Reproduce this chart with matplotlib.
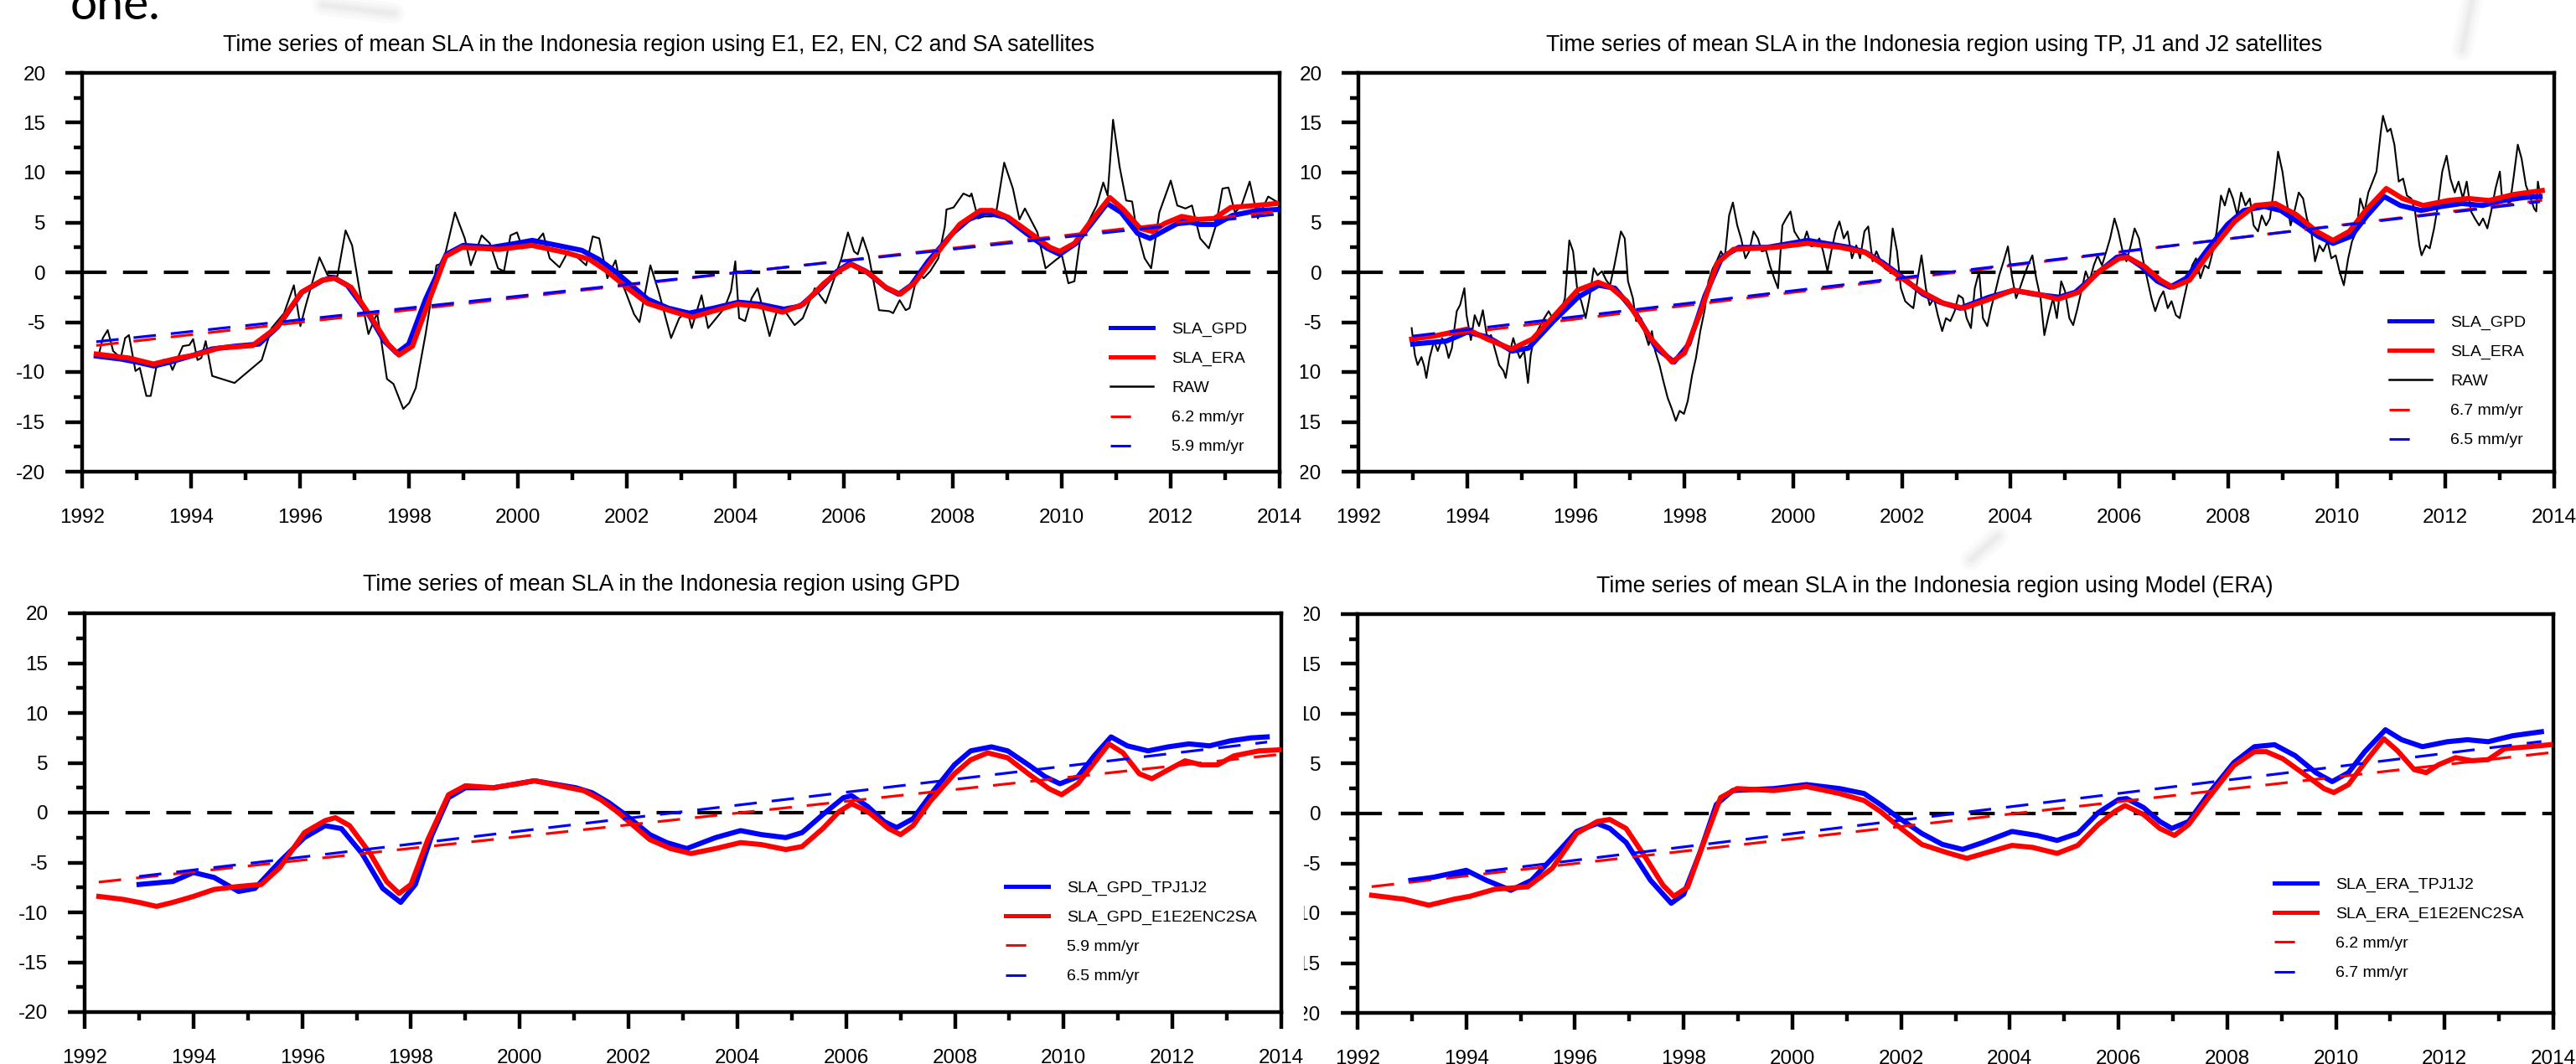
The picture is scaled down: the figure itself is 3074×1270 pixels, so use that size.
import numpy as np
import matplotlib
matplotlib.use("Agg")
import matplotlib.pyplot as plt
from matplotlib.lines import Line2D
from matplotlib.transforms import Bbox, TransformedBbox

plt.rcParams["font.family"] = ["Liberation Sans", "DejaVu Sans"]
plt.rcParams["axes.unicode_minus"] = False

# ---------------------------------------------------------------- data (cm)
# Smoothed SLA, E1/E2/EN/C2/SA satellites, GPD correction
gpd_e_years = [1992.26, 1992.71, 1993.0, 1993.32, 1993.62, 1994.0, 1994.38, 1994.83, 1995.25, 1995.59,
               1996.04, 1996.42, 1996.61, 1996.87, 1997.25, 1997.55, 1997.78, 1998.0, 1998.31, 1998.69,
               1999.0, 1999.52, 1999.97, 2000.27, 2000.73, 2001.18, 2001.49, 2001.79, 2002.09, 2002.39,
               2002.77, 2003.15, 2003.6, 2004.06, 2004.44, 2004.89, 2005.19, 2005.57, 2005.87, 2006.1,
               2006.4, 2006.78, 2007.0, 2007.23, 2007.54, 2007.99, 2008.29, 2008.6, 2008.97, 2009.35,
               2009.73, 2009.96, 2010.26, 2010.56, 2010.83, 2011.09, 2011.39, 2011.62, 2011.92, 2012.23,
               2012.53, 2012.83, 2013.13, 2013.59, 2013.97]
gpd_e_sla = [-8.4, -8.7, -9.0, -9.4, -9.0, -8.4, -7.7, -7.4, -7.2, -5.5,
             -2.0, -0.8, -0.5, -1.3, -4.1, -6.9, -8.1, -7.2, -2.7, 1.8,
             2.7, 2.5, 2.9, 3.2, 2.7, 2.2, 1.3, 0.1, -1.3, -2.7,
             -3.6, -4.1, -3.6, -3.0, -3.2, -3.7, -3.4, -1.6, 0.1, 0.9,
             0.1, -1.6, -2.2, -1.3, 1.1, 3.9, 5.3, 6.0, 5.5, 3.9,
             2.4, 1.8, 2.9, 5.0, 6.9, 6.0, 3.9, 3.4, 4.3, 5.2,
             4.8, 4.8, 5.7, 6.2, 6.3]

# Smoothed SLA, E1/E2/EN/C2/SA satellites, ERA model correction
era_e_years = [1992.26, 1992.86, 1993.31, 1993.77, 1994.07, 1994.52, 1995.13, 1995.58, 1996.03, 1996.41,
               1996.64, 1996.94, 1997.32, 1997.62, 1997.82, 1998.07, 1998.37, 1998.68, 1998.98, 1999.66,
               2000.26, 2000.87, 2001.32, 2001.62, 2002.0, 2002.38, 2002.83, 2003.21, 2003.59, 2004.04,
               2004.42, 2004.87, 2005.25, 2005.63, 2005.93, 2006.12, 2006.46, 2006.76, 2007.03, 2007.29,
               2007.66, 2008.12, 2008.5, 2008.72, 2009.02, 2009.48, 2009.78, 2009.96, 2010.23, 2010.53,
               2010.88, 2011.13, 2011.44, 2011.66, 2011.89, 2012.2, 2012.5, 2012.8, 2013.1, 2013.56,
               2013.94]
era_e_sla = [-8.2, -8.6, -9.2, -8.6, -8.3, -7.6, -7.35, -5.5, -2.0, -0.8,
             -0.6, -1.5, -4.6, -7.2, -8.3, -7.4, -2.9, 1.6, 2.5, 2.3,
             2.7, 2.0, 1.3, 0.2, -1.5, -3.1, -3.9, -4.5, -3.9, -3.2,
             -3.4, -4.0, -3.2, -1.1, 0.2, 0.8, -0.1, -1.5, -2.2, -1.1,
             1.6, 4.8, 6.2, 6.2, 5.5, 3.7, 2.5, 2.1, 2.9, 5.1,
             7.5, 6.3, 4.4, 4.1, 4.9, 5.6, 5.3, 5.4, 6.5, 6.7,
             6.9]

# Smoothed SLA, TP/J1/J2 satellites, GPD correction
gpd_t_years = [1993.0, 1993.62, 1994.0, 1994.38, 1994.83, 1995.13, 1995.59, 1996.04, 1996.42, 1996.72,
               1997.1, 1997.48, 1997.81, 1998.08, 1998.38, 1998.69, 1999.0, 1999.52, 2000.27, 2001.03,
               2001.33, 2001.64, 2001.94, 2002.39, 2002.7, 2003.07, 2003.6, 2004.06, 2004.44, 2004.89,
               2005.19, 2005.57, 2005.95, 2006.1, 2006.4, 2006.7, 2006.93, 2007.23, 2007.61, 2007.99,
               2008.29, 2008.67, 2008.97, 2009.35, 2009.66, 2009.93, 2010.26, 2010.56, 2010.87, 2011.17,
               2011.55, 2011.92, 2012.3, 2012.68, 2013.06, 2013.44, 2013.74]
gpd_t_sla = [-7.2, -6.9, -6.0, -6.5, -7.9, -7.6, -4.9, -2.5, -1.3, -1.6,
             -4.1, -7.6, -9.0, -7.2, -2.3, 1.5, 2.5, 2.5, 3.2, 2.5,
             2.0, 1.0, -0.2, -2.2, -3.0, -3.6, -2.5, -1.8, -2.2, -2.5,
             -2.0, -0.2, 1.5, 1.7, 0.6, -0.9, -1.5, -0.6, 2.2, 4.8,
             6.2, 6.6, 6.2, 4.8, 3.6, 2.9, 3.6, 5.7, 7.6, 6.7,
             6.2, 6.6, 6.9, 6.7, 7.2, 7.5, 7.6]

# Smoothed SLA, TP/J1/J2 satellites, ERA model correction
era_t_years = [1992.98, 1993.39, 1994.0, 1994.37, 1994.82, 1995.2, 1995.58, 1996.03, 1996.41, 1996.64,
               1996.94, 1997.39, 1997.77, 1998.0, 1998.3, 1998.6, 1998.9, 1999.66, 2000.26, 2000.87,
               2001.32, 2001.62, 2001.92, 2002.38, 2002.76, 2003.13, 2003.51, 2004.04, 2004.5, 2004.87,
               2005.25, 2005.63, 2006.0, 2006.15, 2006.46, 2006.76, 2006.98, 2007.29, 2007.66, 2008.12,
               2008.5, 2008.87, 2009.25, 2009.63, 2009.93, 2010.23, 2010.53, 2010.91, 2011.21, 2011.59,
               2012.05, 2012.42, 2012.8, 2013.25, 2013.78]
era_t_sla = [-6.7, -6.4, -5.7, -6.7, -7.7, -6.7, -4.5, -1.8, -1.0, -1.5,
             -2.9, -6.7, -9.0, -8.1, -3.9, 0.9, 2.3, 2.5, 2.9, 2.5,
             2.0, 0.9, -0.3, -2.0, -3.1, -3.6, -2.9, -1.8, -2.2, -2.7,
             -2.0, 0.1, 1.4, 1.5, 0.6, -0.8, -1.5, -0.8, 2.0, 5.1,
             6.7, 6.9, 5.8, 4.1, 3.2, 4.1, 6.2, 8.4, 7.4, 6.7,
             7.2, 7.4, 7.2, 7.8, 8.2]

# Raw (unsmoothed) SLA, E1/E2/EN/C2/SA: (year, cm)
raw_e = [(1992.30, -8.4), (1992.38, -6.6), (1992.47, -5.8), (1992.57, -7.9), (1992.71, -8.6),
         (1992.79, -6.6), (1992.86, -6.3), (1992.98, -9.9), (1993.06, -9.6), (1993.18, -12.4),
         (1993.26, -12.4), (1993.36, -9.6), (1993.48, -8.8), (1993.59, -8.8), (1993.66, -9.8),
         (1993.85, -7.4), (1993.97, -7.3), (1994.04, -6.7), (1994.12, -8.8), (1994.19, -8.6),
         (1994.27, -6.9), (1994.39, -10.4), (1994.80, -11.1), (1995.30, -8.8), (1995.48, -5.6),
         (1995.71, -4.1), (1995.89, -1.3), (1996.01, -5.4), (1996.11, -3.3), (1996.36, 1.5),
         (1996.51, -0.3), (1996.69, -0.4), (1996.84, 4.2), (1996.96, 2.7), (1997.10, -1.9),
         (1997.26, -6.2), (1997.42, -4.1), (1997.60, -10.7), (1997.72, -11.2), (1997.90, -13.7),
         (1998.01, -13.1), (1998.13, -11.6), (1998.31, -6.2), (1998.51, 0.7), (1998.63, 0.9),
         (1998.85, 6.0), (1999.03, 3.4), (1999.14, 0.7), (1999.34, 3.7), (1999.49, 2.9),
         (1999.64, 0.4), (1999.75, 0.1), (1999.87, 3.7), (1999.99, 4.0), (2000.09, 2.4),
         (2000.20, 2.9), (2000.32, 2.9), (2000.47, 3.9), (2000.59, 1.4), (2000.77, 0.5),
         (2000.93, 2.1), (2001.08, 1.6), (2001.26, 0.7), (2001.38, 3.6), (2001.50, 3.4),
         (2001.65, -0.6), (2001.80, 1.2), (2001.86, -0.4), (2001.98, -1.9), (2002.14, -4.2),
         (2002.24, -5.0), (2002.44, 0.7), (2002.59, -1.9), (2002.82, -6.6), (2002.97, -4.6),
         (2003.12, -3.9), (2003.20, -5.6), (2003.38, -2.3), (2003.50, -5.6), (2003.65, -4.6),
         (2003.80, -3.6), (2003.92, -1.9), (2004.00, 1.1), (2004.07, -4.6), (2004.18, -4.9),
         (2004.30, -2.6), (2004.41, -1.6), (2004.63, -6.4), (2004.78, -3.6), (2004.90, -3.8),
         (2005.09, -5.3), (2005.24, -4.6), (2005.46, -1.6), (2005.66, -3.1), (2005.95, 1.4),
         (2006.07, 4.0), (2006.18, 2.1), (2006.25, 1.8), (2006.34, 3.5), (2006.45, 1.7),
         (2006.64, -3.8), (2006.83, -3.9), (2006.90, -4.1), (2007.02, -2.8), (2007.13, -3.8),
         (2007.20, -3.6), (2007.36, 0.1), (2007.46, -0.6), (2007.58, 0.1), (2007.73, 1.4),
         (2007.85, 4.6), (2007.88, 6.3), (2008.01, 6.5), (2008.19, 7.9), (2008.31, 7.6),
         (2008.34, 7.9), (2008.46, 5.4), (2008.57, 5.6), (2008.72, 5.6), (2008.79, 5.9),
         (2008.94, 11.0), (2009.10, 8.4), (2009.22, 5.3), (2009.32, 6.4), (2009.55, 4.0),
         (2009.70, 0.4), (2009.88, 1.2), (2010.00, 1.7), (2010.12, -1.1), (2010.23, -0.9),
         (2010.33, 3.1), (2010.49, 5.1), (2010.64, 6.7), (2010.76, 9.0), (2010.84, 7.7),
         (2010.94, 15.3), (2011.06, 10.6), (2011.18, 7.2), (2011.29, 7.1), (2011.36, 4.7),
         (2011.52, 1.4), (2011.64, 0.4), (2011.79, 6.0), (2012.00, 9.2), (2012.12, 6.7),
         (2012.27, 6.4), (2012.39, 6.7), (2012.54, 3.4), (2012.70, 2.4), (2012.83, 4.7),
         (2012.95, 8.4), (2013.06, 8.5), (2013.18, 6.0), (2013.30, 6.7), (2013.45, 9.1),
         (2013.60, 5.4), (2013.79, 7.6), (2013.94, 7.1)]

# Raw (unsmoothed) SLA, TP/J1/J2: (year, cm)
raw_t = [(1992.98, -5.6), (1993.04, -8.3), (1993.09, -9.3), (1993.16, -8.5), (1993.21, -9.4),
         (1993.25, -10.6), (1993.31, -8.6), (1993.39, -6.9), (1993.46, -7.9), (1993.54, -6.6),
         (1993.61, -7.4), (1993.66, -8.6), (1993.72, -7.6), (1993.76, -5.9), (1993.81, -3.9),
         (1993.87, -3.3), (1993.95, -1.6), (1993.99, -4.3), (1994.07, -6.8), (1994.14, -4.3),
         (1994.22, -5.4), (1994.29, -3.8), (1994.37, -6.6), (1994.44, -6.3), (1994.52, -7.9),
         (1994.59, -9.3), (1994.67, -9.9), (1994.71, -10.6), (1994.79, -7.9), (1994.85, -6.6),
         (1994.90, -7.6), (1994.97, -8.6), (1995.05, -7.9), (1995.12, -11.1), (1995.17, -8.3),
         (1995.23, -6.6), (1995.32, -5.6), (1995.42, -4.6), (1995.50, -3.9), (1995.57, -4.6),
         (1995.65, -4.1), (1995.73, -3.8), (1995.80, -2.6), (1995.88, 3.2), (1995.95, 2.1),
         (1996.03, -1.9), (1996.10, -2.9), (1996.18, -4.6), (1996.25, -2.6), (1996.33, 0.4),
         (1996.40, -0.3), (1996.48, 0.1), (1996.56, -0.8), (1996.63, -1.3), (1996.71, 0.7),
         (1996.78, 2.7), (1996.83, 4.1), (1996.90, 3.4), (1996.96, -0.9), (1997.05, -2.6),
         (1997.11, -4.9), (1997.20, -4.6), (1997.26, -5.9), (1997.34, -7.3), (1997.40, -5.9),
         (1997.46, -7.9), (1997.54, -9.3), (1997.61, -10.9), (1997.69, -12.6), (1997.76, -13.6),
         (1997.84, -14.9), (1997.91, -13.9), (1997.99, -14.2), (1998.06, -12.9), (1998.14, -10.3),
         (1998.21, -8.6), (1998.29, -5.9), (1998.37, -3.8), (1998.44, -0.9), (1998.52, 0.4),
         (1998.59, 1.1), (1998.67, 2.1), (1998.74, 1.4), (1998.82, 5.7), (1998.89, 7.0),
         (1998.97, 4.7), (1999.04, 3.4), (1999.12, 1.4), (1999.19, 2.1), (1999.27, 4.1),
         (1999.35, 3.4), (1999.42, 2.1), (1999.50, 2.2), (1999.57, 0.7), (1999.65, -0.6),
         (1999.72, -1.6), (1999.80, 4.7), (1999.87, 5.4), (1999.95, 6.1), (2000.02, 4.1),
         (2000.10, 3.4), (2000.17, 2.7), (2000.25, 4.1), (2000.33, 2.6), (2000.40, 2.7),
         (2000.48, 3.4), (2000.55, 2.1), (2000.63, 0.1), (2000.70, 2.1), (2000.78, 4.1),
         (2000.85, 5.1), (2000.93, 3.4), (2001.00, 4.1), (2001.08, 1.4), (2001.16, 2.7),
         (2001.23, 1.4), (2001.31, 4.1), (2001.38, 4.6), (2001.46, 1.1), (2001.53, 2.1),
         (2001.61, 1.1), (2001.68, 0.4), (2001.76, 0.1), (2001.83, 4.4), (2001.91, 2.1),
         (2001.98, -1.6), (2002.06, -2.9), (2002.14, -3.3), (2002.21, -3.6), (2002.29, -0.6),
         (2002.36, 1.7), (2002.44, -1.6), (2002.51, -3.3), (2002.59, -2.6), (2002.66, -4.3),
         (2002.74, -5.9), (2002.81, -4.6), (2002.89, -4.9), (2002.97, -3.9), (2003.04, -2.3),
         (2003.12, -2.6), (2003.19, -4.6), (2003.27, -5.6), (2003.34, -1.6), (2003.42, 0.1),
         (2003.49, -4.6), (2003.57, -5.4), (2003.64, -3.6), (2003.72, -1.9), (2003.79, -0.3),
         (2003.87, 1.1), (2003.95, 2.6), (2004.02, -0.3), (2004.10, -2.6), (2004.17, -1.6),
         (2004.25, -0.3), (2004.32, 0.7), (2004.40, 1.7), (2004.47, -0.6), (2004.55, -2.6),
         (2004.62, -6.3), (2004.70, -4.3), (2004.78, -2.6), (2004.85, -4.6), (2004.93, -0.9),
         (2005.00, -1.9), (2005.08, -4.6), (2005.15, -5.3), (2005.23, -3.6), (2005.30, -1.9),
         (2005.38, 0.1), (2005.45, -0.9), (2005.53, 0.7), (2005.60, 1.7), (2005.68, 0.7),
         (2005.76, 2.1), (2005.83, 3.4), (2005.91, 5.4), (2005.98, 4.1), (2006.06, 2.1),
         (2006.13, 1.1), (2006.21, 2.7), (2006.28, 4.4), (2006.36, 3.4), (2006.43, 1.4),
         (2006.51, -0.6), (2006.59, -2.6), (2006.66, -3.9), (2006.74, -2.6), (2006.81, -1.9),
         (2006.89, -3.6), (2006.96, -2.9), (2007.04, -4.3), (2007.11, -4.6), (2007.19, -2.6),
         (2007.26, -0.9), (2007.34, 0.7), (2007.41, 1.4), (2007.49, -0.6), (2007.57, 0.7),
         (2007.64, 0.4), (2007.72, 2.1), (2007.79, 4.1), (2007.87, 7.7), (2007.94, 6.7),
         (2008.02, 8.4), (2008.09, 7.4), (2008.17, 5.7), (2008.24, 8.0), (2008.32, 6.7),
         (2008.40, 7.4), (2008.47, 4.7), (2008.55, 4.1), (2008.62, 5.7), (2008.70, 4.7),
         (2008.77, 5.4), (2008.85, 8.7), (2008.92, 12.1), (2009.00, 10.1), (2009.07, 7.4),
         (2009.15, 4.7), (2009.22, 6.1), (2009.30, 8.0), (2009.38, 7.4), (2009.45, 5.4),
         (2009.53, 4.1), (2009.60, 1.1), (2009.68, 2.7), (2009.75, 2.1), (2009.83, 3.1),
         (2009.90, 1.4), (2009.98, 1.7), (2010.05, 0.1), (2010.13, -1.3), (2010.21, 1.4),
         (2010.28, 3.1), (2010.36, 4.1), (2010.43, 7.4), (2010.51, 6.1), (2010.58, 8.0),
         (2010.66, 9.1), (2010.73, 10.1), (2010.81, 14.1), (2010.85, 15.7), (2010.93, 14.1),
         (2010.99, 14.4), (2011.06, 12.8), (2011.14, 9.1), (2011.22, 9.4), (2011.29, 7.7),
         (2011.37, 7.4), (2011.44, 6.1), (2011.52, 2.7), (2011.56, 1.7), (2011.64, 2.7),
         (2011.71, 2.4), (2011.79, 4.4), (2011.86, 6.7), (2011.94, 10.1), (2012.02, 11.7),
         (2012.09, 9.4), (2012.17, 8.0), (2012.24, 9.1), (2012.32, 7.4), (2012.39, 9.1),
         (2012.47, 6.1), (2012.54, 5.4), (2012.62, 4.7), (2012.69, 5.4), (2012.77, 4.4),
         (2012.84, 6.1), (2012.92, 8.4), (2013.00, 10.1), (2013.04, 7.4), (2013.10, 7.7),
         (2013.18, 6.7), (2013.25, 9.4), (2013.33, 12.8), (2013.40, 11.4), (2013.48, 8.7),
         (2013.55, 7.7), (2013.63, 6.4), (2013.67, 6.1), (2013.70, 9.1), (2013.75, 7.4)]

# Linear trends: rate (mm/yr) and fitted level (cm) at 2003.0
trend_rate = {"gpd_e": 5.9, "era_e": 6.2, "gpd_t": 6.5, "era_t": 6.7}
trend_2003 = {"gpd_e": -0.63, "era_e": -0.68, "gpd_t": 0.1, "era_t": 0.0}

titles = [
    "Time series of mean SLA in the Indonesia region using E1, E2, EN, C2 and SA satellites",
    "Time series of mean SLA in the Indonesia region using TP, J1 and J2 satellites",
    "Time series of mean SLA in the Indonesia region using GPD",
    "Time series of mean SLA in the Indonesia region using Model (ERA)",
]

# ---------------------------------------------------------------- layout
W, H = 3074, 1270
fig = plt.figure(figsize=(W / 100, H / 100), dpi=100)
fig.patch.set_facecolor("white")


def add_axes_px(x0, x1, y0, y1):
    return fig.add_axes([x0 / W, 1 - y1 / H, (x1 - x0) / W, (y1 - y0) / H])


axes = [add_axes_px(98, 1527, 87, 563), add_axes_px(1621, 3048, 87, 563),
        add_axes_px(101, 1529, 732, 1208), add_axes_px(1620, 3047, 733, 1209)]

LW_SPINE = 3.2
LW_SMOOTH = 4.4
LW_RAW = 1.5
LW_TREND = 2.3
TREND_DASH = (0, (8.4, 5.6))
ZERO_DASH = (0, (7.0, 4.7))


def style_axes(ax):
    ax.set_xlim(1992, 2014)
    ax.set_ylim(-20, 20)
    ax.set_xticks(np.arange(1992, 2015, 2))
    ax.set_xticks(np.arange(1992, 2015, 1), minor=True)
    ax.set_yticks(np.arange(-20, 21, 5))
    ax.set_yticks(np.arange(-20, 21, 2.5), minor=True)
    for s in ax.spines.values():
        s.set_linewidth(LW_SPINE)
    ax.tick_params(which="both", direction="out", width=LW_SPINE, top=False, right=False,
                   labelsize=17.5, colors="black")
    ax.tick_params(which="major", length=14.4)
    ax.tick_params(which="minor", length=7.2)
    ax.tick_params(axis="x", which="major", pad=17)
    ax.tick_params(axis="y", which="major", pad=17)
    ax.axhline(0, color="black", lw=3.0, ls=ZERO_DASH, zorder=1)


def plot_trend(ax, years, key, color):
    t = np.array([years[0], years[-1]])
    ax.plot(t, trend_2003[key] + trend_rate[key] / 10.0 * (t - 2003.0),
            color=color, lw=LW_TREND, ls=TREND_DASH, zorder=5)


def place_legend(ax, handles, labels, x, y):
    ax.legend(handles, labels, loc="upper left", bbox_to_anchor=(x / W, 1 - y / H),
              bbox_transform=fig.transFigure, frameon=False, fontsize=14,
              handlelength=2.62, handletextpad=1.13, labelspacing=0.90,
              borderpad=0, borderaxespad=0)


h_blue = Line2D([], [], color="blue", lw=3.6)
h_red = Line2D([], [], color="red", lw=3.6)
h_raw = Line2D([], [], color="black", lw=1.8)
h_tr_red = Line2D([], [], color="red", lw=2.2, ls=(0, (7.9, 60)))
h_tr_blue = Line2D([], [], color="blue", lw=2.2, ls=(0, (7.9, 60)))

for ax in axes:
    style_axes(ax)

raw_e_years, raw_e_sla = zip(*raw_e)
raw_t_years, raw_t_sla = zip(*raw_t)

# Panel 1: E1/E2/EN/C2/SA
ax = axes[0]
ax.plot(raw_e_years, raw_e_sla, color="black", lw=LW_RAW, zorder=2)
ax.plot(gpd_e_years, gpd_e_sla, color="blue", lw=LW_SMOOTH, zorder=3)
ax.plot(era_e_years, era_e_sla, color="red", lw=LW_SMOOTH, zorder=4)
plot_trend(ax, era_e_years, "era_e", "red")
plot_trend(ax, gpd_e_years, "gpd_e", "blue")
place_legend(ax, [h_blue, h_red, h_raw, h_tr_red, h_tr_blue],
             ["SLA_GPD", "SLA_ERA", "RAW", f"{trend_rate['era_e']} mm/yr", f"{trend_rate['gpd_e']} mm/yr"],
             1325, 384)

# Panel 2: TP/J1/J2
ax = axes[1]
ax.plot(raw_t_years, raw_t_sla, color="black", lw=LW_RAW, zorder=2)
ax.plot(gpd_t_years, gpd_t_sla, color="blue", lw=LW_SMOOTH, zorder=3)
ax.plot(era_t_years, era_t_sla, color="red", lw=LW_SMOOTH, zorder=4)
plot_trend(ax, era_t_years, "era_t", "red")
plot_trend(ax, gpd_t_years, "gpd_t", "blue")
place_legend(ax, [h_blue, h_red, h_raw, h_tr_red, h_tr_blue],
             ["SLA_GPD", "SLA_ERA", "RAW", f"{trend_rate['era_t']} mm/yr", f"{trend_rate['gpd_t']} mm/yr"],
             2851, 376)

# Panel 3: GPD, both satellite groups
ax = axes[2]
ax.plot(gpd_t_years, gpd_t_sla, color="blue", lw=LW_SMOOTH, zorder=3)
ax.plot(gpd_e_years, gpd_e_sla, color="red", lw=LW_SMOOTH, zorder=4)
plot_trend(ax, gpd_e_years, "gpd_e", "red")
plot_trend(ax, gpd_t_years, "gpd_t", "blue")
place_legend(ax, [h_blue, h_red, h_tr_red, h_tr_blue],
             ["SLA_GPD_TPJ1J2", "SLA_GPD_E1E2ENC2SA",
              f"{trend_rate['gpd_e']} mm/yr", f"{trend_rate['gpd_t']} mm/yr"],
             1200, 1051)

# Panel 4: ERA model, both satellite groups
ax = axes[3]
ax.plot(era_t_years, era_t_sla, color="blue", lw=LW_SMOOTH, zorder=3)
ax.plot(era_e_years, era_e_sla, color="red", lw=LW_SMOOTH, zorder=4)
plot_trend(ax, era_e_years, "era_e", "red")
plot_trend(ax, era_t_years, "era_t", "blue")
place_legend(ax, [h_blue, h_red, h_tr_red, h_tr_blue],
             ["SLA_ERA_TPJ1J2", "SLA_ERA_E1E2ENC2SA",
              f"{trend_rate['era_e']} mm/yr", f"{trend_rate['era_t']} mm/yr"],
             2714, 1047)

# Titles
for (cx, cy), text in zip([(786, 54), (2308, 54), (789, 698), (2309, 700)], titles):
    fig.text(cx / W, 1 - cy / H, text, ha="center", va="center", fontsize=19.3)

# Right-hand panels sit under the left ones: their y labels are cut on the left
for ax, cut in ((axes[1], 1552), (axes[3], 1556)):
    clip_box = TransformedBbox(Bbox.from_extents(cut / W, 0, 1, 1), fig.transFigure)
    for lab in ax.get_yticklabels():
        lab.set_clip_box(clip_box)
        lab.set_clip_on(True)

# Tail of the slide sentence above the figure
fig.text(84 / W, 1 - 23 / H, "one.", fontsize=41, family=["Lato", "DejaVu Sans"],
         ha="left", va="baseline")

# Faint, soft slide-background strokes behind the figure
for (x0, y0, x1, y1) in [(385, 6, 470, 16), (2950, 0, 2938, 60), (2384, 640, 2352, 668)]:
    for lw, col in ((18, "#fafafa"), (12, "#f5f5f5"), (7, "#f0f0f0"), (3, "#ebebeb")):
        fig.add_artist(Line2D([x0 / W, x1 / W], [1 - y0 / H, 1 - y1 / H], transform=fig.transFigure,
                              color=col, lw=lw, solid_capstyle="round", zorder=0))

fig.savefig("out.png", dpi=100, facecolor="white")
